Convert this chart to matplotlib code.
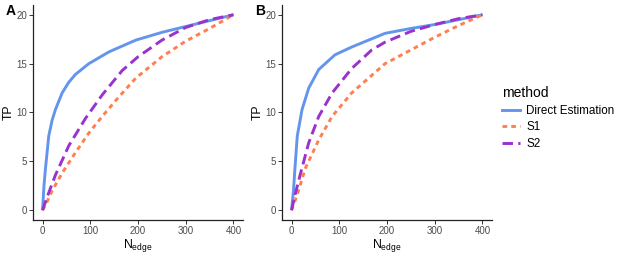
import numpy as np
import matplotlib
matplotlib.use("Agg")
import matplotlib.pyplot as plt
from matplotlib.lines import Line2D

plt.rcParams['font.family'] = ['Liberation Sans', 'DejaVu Sans']
plt.rcParams['mathtext.fontset'] = 'custom'
plt.rcParams['mathtext.rm'] = 'Liberation Sans'

# Panel A
a_direct_x = [0, 3, 6, 13, 20, 27, 41, 55, 69, 97, 139, 195, 250, 300, 350, 400]
a_direct_y = [0, 2.5, 4.2, 7.6, 9.2, 10.3, 12.0, 13.1, 13.9, 15.0, 16.2, 17.4, 18.2, 18.8, 19.4, 20.0]
a_s1_x = [0, 6, 20, 41, 69, 97, 125, 160, 195, 250, 300, 350, 400]
a_s1_y = [0, 0.5, 2.0, 3.8, 5.9, 7.9, 9.6, 11.6, 13.5, 15.7, 17.3, 18.6, 20.0]
a_s2_x = [0, 10, 27, 55, 90, 125, 167, 200, 250, 300, 350, 400]
a_s2_y = [0, 1.4, 3.6, 6.6, 9.4, 11.8, 14.3, 15.7, 17.4, 18.7, 19.5, 20.0]

# Panel B
b_direct_x = [0, 4, 7, 12, 22, 36, 57, 91, 126, 161, 196, 250, 300, 350, 400]
b_direct_y = [0, 2.0, 4.2, 7.6, 10.3, 12.5, 14.4, 15.9, 16.7, 17.4, 18.1, 18.6, 19.0, 19.5, 20.0]
b_s1_x = [0, 12, 29, 57, 85, 126, 161, 196, 250, 300, 350, 400]
b_s1_y = [0, 1.6, 4.3, 7.2, 9.6, 12.0, 13.5, 15.0, 16.4, 17.7, 18.9, 20.0]
b_s2_x = [0, 8, 19, 36, 57, 85, 126, 168, 196, 250, 300, 350, 400]
b_s2_y = [0, 1.7, 3.8, 6.9, 9.6, 12.0, 14.5, 16.4, 17.2, 18.3, 19.0, 19.6, 20.0]

methods = ["Direct Estimation", "S1", "S2"]
colors = ["#6495ED", "#FF7F50", "#9A32CD"]
styles = ["-", (0, (1.6, 1.4)), (0, (3.6, 1.8))]

x_ticks = [0, 100, 200, 300, 400]
y_ticks = [0, 5, 10, 15, 20]

fig = plt.figure(figsize=(6.23, 2.56), dpi=100)
lw = 2.1
panels = [
    ("A", 33 / 623, 6 / 623, [(a_direct_x, a_direct_y), (a_s1_x, a_s1_y), (a_s2_x, a_s2_y)]),
    ("B", 282 / 623, 255 / 623, [(b_direct_x, b_direct_y), (b_s1_x, b_s1_y), (b_s2_x, b_s2_y)]),
]
for label, left, lab_x, series in panels:
    ax = fig.add_axes([left, 36 / 256, 210 / 623, 215 / 256])
    for (xs, ys), c, ls in zip(series, colors, styles):
        ax.plot(xs, ys, color=c, linestyle=ls, linewidth=lw,
                solid_joinstyle="round", dash_joinstyle="round",
                solid_capstyle="butt", dash_capstyle="butt")
    ax.set_xlim(-20, 420)
    ax.set_ylim(-1, 21)
    ax.set_xticks(x_ticks)
    ax.set_yticks(y_ticks)
    for s in ["top", "right"]:
        ax.spines[s].set_visible(False)
    for s in ["left", "bottom"]:
        ax.spines[s].set_linewidth(0.9)
        ax.spines[s].set_color("#222222")
    ax.tick_params(axis="both", labelsize=7, colors="#333333", labelcolor="#4D4D4D",
                   length=2.7, width=0.7, pad=1.5)
    ax.set_xlabel(r"$\mathregular{N_{edge}}$", fontsize=8.8, labelpad=1.0)
    ax.set_ylabel("TP", fontsize=8.8, labelpad=1.2)
    fig.text(lab_x, 1 - 11 / 256, label, fontsize=10, fontweight="bold",
             va="center", ha="left")

handles = [Line2D([0], [0], color=c, linestyle=ls, linewidth=lw) for c, ls in zip(colors, styles)]
leg = fig.legend(handles, methods, title="method", loc="upper left",
                 bbox_to_anchor=(493 / 623, 1 - 77 / 256), frameon=False, fontsize=8.4,
                 title_fontsize=10, handlelength=1.5, handletextpad=0.55, labelspacing=0.38,
                 borderpad=0.3)
leg._legend_box.align = "left"

fig.savefig("out.png", dpi=100)
